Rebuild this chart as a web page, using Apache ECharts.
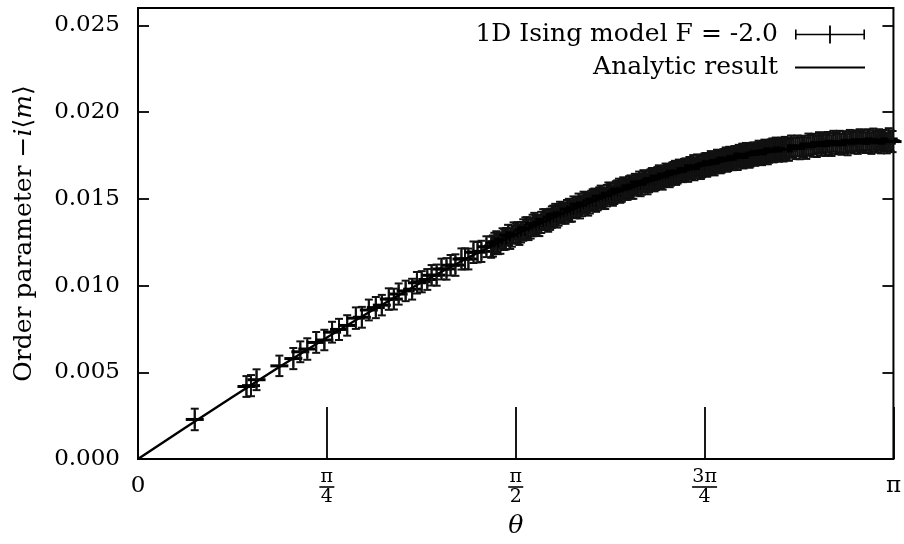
<!DOCTYPE html>
<html><head><meta charset="utf-8">
<script src="https://cdn.jsdelivr.net/npm/echarts@6/dist/echarts.min.js"></script>
<style>html,body{margin:0;padding:0;background:#fff}#c{width:904px;height:544px}</style>
</head><body><div id="c"></div>
<script>
// ---- data ----
const thetaPts = [
0.236,0.451,0.470,0.493,0.588,0.646,0.675,0.704,0.741,0.775,
0.807,0.836,0.870,0.906,0.931,0.960,0.989,1.014,1.043,1.064,
1.084,1.113,1.140,1.160,1.180,1.203,1.221,1.242,1.262,1.283,
1.300,1.320,1.345,1.360,1.374,1.395,1.412,1.428,1.449,1.469,
1.482,1.497,1.516,1.530,1.548,1.562,1.579,1.593,1.611,1.624,
1.641,1.655,1.669,1.685,1.698,1.714,1.727,1.743,1.755,1.771,
1.784,1.799,1.811,1.826,1.838,1.853,1.865,1.879,1.891,1.905,
1.918,1.930,1.943,1.956,1.968,1.981,1.993,2.006,2.018,2.030,
2.042,2.054,2.066,2.078,2.090,2.102,2.113,2.125,2.137,2.148,
2.160,2.171,2.182,2.194,2.205,2.216,2.227,2.238,2.249,2.260,
2.271,2.282,2.293,2.303,2.314,2.325,2.335,2.346,2.356,2.367,
2.377,2.387,2.398,2.408,2.418,2.428,2.438,2.449,2.459,2.469,
2.479,2.489,2.498,2.508,2.518,2.528,2.538,2.547,2.557,2.567,
2.576,2.586,2.595,2.605,2.614,2.624,2.633,2.643,2.652,2.661,
2.670,2.680,2.689,2.698,2.707,2.716,2.725,2.734,2.743,2.752,
2.761,2.770,2.779,2.788,2.797,2.806,2.814,2.823,2.832,2.841,
2.849,2.858,2.866,2.875,2.884,2.892,2.901,2.909,2.918,2.926,
2.935,2.943,2.951,2.960,2.968,2.976,2.985,2.993,3.001,3.009,
3.017,3.026,3.034,3.042,3.050,3.058,3.066,3.074,3.082,3.090,
3.098,3.106,3.114,3.122,3.130,3.138
];
const mPts = [
0.00228,0.00418,0.00423,0.00457,0.00537,0.00579,0.00618,0.00634,0.00672,0.00686,
0.00731,0.00747,0.00770,0.00812,0.00817,0.00859,0.00873,0.00887,0.00922,0.00922,
0.00951,0.00969,0.00979,0.01016,0.01022,0.01035,0.01059,0.01060,0.01095,0.01096,
0.01117,0.01118,0.01153,0.01154,0.01153,0.01192,0.01192,0.01197,0.01224,0.01221,
0.01244,0.01242,0.01271,0.01270,0.01271,0.01304,0.01304,0.01307,0.01331,0.01322,
0.01346,0.01349,0.01346,0.01380,0.01378,0.01382,0.01401,0.01396,0.01423,0.01418,
0.01434,0.01429,0.01453,0.01451,0.01447,0.01479,0.01475,0.01476,0.01495,0.01486,
0.01505,0.01507,0.01501,0.01532,0.01528,0.01530,0.01547,0.01538,0.01564,0.01556,
0.01570,0.01562,0.01585,0.01581,0.01575,0.01605,0.01599,0.01597,0.01615,0.01603,
0.01621,0.01621,0.01614,0.01643,0.01638,0.01637,0.01652,0.01642,0.01666,0.01656,
0.01669,0.01660,0.01681,0.01675,0.01668,0.01696,0.01689,0.01685,0.01702,0.01689,
0.01705,0.01704,0.01696,0.01723,0.01716,0.01714,0.01728,0.01717,0.01740,0.01729,
0.01740,0.01730,0.01750,0.01743,0.01734,0.01761,0.01753,0.01748,0.01764,0.01749,
0.01765,0.01762,0.01753,0.01779,0.01771,0.01768,0.01781,0.01769,0.01791,0.01779,
0.01789,0.01778,0.01797,0.01789,0.01780,0.01805,0.01796,0.01790,0.01805,0.01790,
0.01804,0.01801,0.01791,0.01816,0.01808,0.01804,0.01816,0.01802,0.01824,0.01811,
0.01820,0.01808,0.01826,0.01817,0.01807,0.01832,0.01823,0.01816,0.01830,0.01814,
0.01828,0.01823,0.01812,0.01837,0.01828,0.01823,0.01835,0.01821,0.01841,0.01828,
0.01836,0.01823,0.01841,0.01831,0.01820,0.01845,0.01834,0.01827,0.01841,0.01824,
0.01837,0.01833,0.01821,0.01845,0.01835,0.01830
];
const errPts = [
0.00062,0.00060,0.00061,0.00060,0.00059,0.00061,0.00060,0.00062,0.00060,0.00059,
0.00060,0.00061,0.00059,0.00062,0.00060,0.00060,0.00061,0.00059,0.00062,0.00060,
0.00061,0.00059,0.00060,0.00062,0.00061,0.00060,0.00059,0.00061,0.00060,0.00062,
0.00059,0.00062,0.00061,0.00060,0.00060,0.00062,0.00059,0.00061,0.00060,0.00061,
0.00060,0.00061,0.00059,0.00062,0.00060,0.00060,0.00061,0.00059,0.00062,0.00060,
0.00062,0.00060,0.00061,0.00060,0.00059,0.00061,0.00060,0.00062,0.00060,0.00059,
0.00059,0.00062,0.00061,0.00060,0.00060,0.00062,0.00059,0.00061,0.00060,0.00061,
0.00061,0.00059,0.00060,0.00062,0.00061,0.00060,0.00059,0.00061,0.00060,0.00062,
0.00060,0.00061,0.00059,0.00062,0.00060,0.00060,0.00061,0.00059,0.00062,0.00060,
0.00062,0.00060,0.00061,0.00060,0.00059,0.00061,0.00060,0.00062,0.00060,0.00059,
0.00061,0.00059,0.00060,0.00062,0.00061,0.00060,0.00059,0.00061,0.00060,0.00062,
0.00059,0.00062,0.00061,0.00060,0.00060,0.00062,0.00059,0.00061,0.00060,0.00061,
0.00062,0.00060,0.00061,0.00060,0.00059,0.00061,0.00060,0.00062,0.00060,0.00059,
0.00060,0.00061,0.00059,0.00062,0.00060,0.00060,0.00061,0.00059,0.00062,0.00060,
0.00061,0.00059,0.00060,0.00062,0.00061,0.00060,0.00059,0.00061,0.00060,0.00062,
0.00059,0.00062,0.00061,0.00060,0.00060,0.00062,0.00059,0.00061,0.00060,0.00061,
0.00060,0.00061,0.00059,0.00062,0.00060,0.00060,0.00061,0.00059,0.00062,0.00060,
0.00062,0.00060,0.00061,0.00060,0.00059,0.00061,0.00060,0.00062,0.00060,0.00059,
0.00061,0.00059,0.00060,0.00062,0.00061,0.00060,0.00059,0.00061,0.00060,0.00062,
0.00060,0.00061,0.00059,0.00062,0.00060,0.00061
];
// second run of samples filling the middle of the band
const thetaPtsB = [
1.476,1.490,1.507,1.523,1.539,1.555,1.571,1.586,1.602,1.618,
1.633,1.648,1.662,1.677,1.692,1.706,1.721,1.735,1.749,1.763,
1.778,1.792,1.805,1.819,1.832,1.846,1.859,1.872,1.885,1.898,
1.912,1.924,1.937,1.950,1.962,1.975,1.987,2.000,2.012,2.024,
2.036,2.048,2.060,2.072,2.084,2.096,2.108,2.119,2.131,2.143,
2.154,2.166,2.177,2.188,2.200,2.211,2.222,2.233,2.244,2.255,
2.266,2.277,2.288,2.298,2.309,2.320,2.330,2.341,2.351,2.362,
2.372,2.382,2.393,2.403,2.413,2.423,2.433,2.444,2.454,2.464,
2.474,2.484,2.494,2.503,2.513,2.523,2.533,2.543,2.552,2.562,
2.572,2.581,2.591,2.600,2.610,2.619,2.629,2.638,2.648,2.657,
2.666,2.675,2.685,2.694
];
const mPtsB = [
0.01228,0.01253,0.01245,0.01264,0.01290,0.01285,0.01302,0.01293,0.01320,0.01334,
0.01331,0.01357,0.01347,0.01364,0.01381,0.01371,0.01394,0.01411,0.01405,0.01417,
0.01418,0.01441,0.01430,0.01448,0.01469,0.01460,0.01475,0.01463,0.01487,0.01498,
0.01493,0.01515,0.01503,0.01518,0.01532,0.01519,0.01541,0.01555,0.01545,0.01557,
0.01555,0.01575,0.01562,0.01579,0.01597,0.01586,0.01599,0.01585,0.01608,0.01617,
0.01610,0.01631,0.01616,0.01629,0.01642,0.01628,0.01647,0.01659,0.01648,0.01658,
0.01658,0.01674,0.01659,0.01674,0.01691,0.01679,0.01690,0.01674,0.01695,0.01703,
0.01695,0.01714,0.01699,0.01710,0.01721,0.01706,0.01724,0.01735,0.01722,0.01731,
0.01726,0.01744,0.01728,0.01742,0.01758,0.01744,0.01754,0.01738,0.01757,0.01764,
0.01755,0.01773,0.01757,0.01767,0.01777,0.01760,0.01778,0.01788,0.01774,0.01782,
0.01776,0.01793,0.01776,0.01789
];
const errPtsB = [
0.00061,0.00060,0.00062,0.00059,0.00060,0.00061,0.00060,0.00059,0.00062,0.00060,
0.00060,0.00062,0.00060,0.00061,0.00059,0.00061,0.00062,0.00060,0.00060,0.00059,
0.00062,0.00059,0.00061,0.00060,0.00061,0.00060,0.00062,0.00060,0.00059,0.00061,
0.00059,0.00061,0.00060,0.00062,0.00060,0.00059,0.00060,0.00061,0.00062,0.00060,
0.00061,0.00060,0.00062,0.00059,0.00060,0.00061,0.00060,0.00059,0.00062,0.00060,
0.00060,0.00062,0.00060,0.00061,0.00059,0.00061,0.00062,0.00060,0.00060,0.00059,
0.00062,0.00059,0.00061,0.00060,0.00061,0.00060,0.00062,0.00060,0.00059,0.00061,
0.00059,0.00061,0.00060,0.00062,0.00060,0.00059,0.00060,0.00061,0.00062,0.00060,
0.00061,0.00060,0.00062,0.00059,0.00060,0.00061,0.00060,0.00059,0.00062,0.00060,
0.00060,0.00062,0.00060,0.00061,0.00059,0.00061,0.00062,0.00060,0.00060,0.00059,
0.00062,0.00059,0.00061,0.00060
];
const thetaLine = [0,0.19635,0.39270,0.58905,0.78540,0.98175,1.17810,1.37445,1.57080,
  1.76715,1.96350,2.15984,2.35619,2.55254,2.74889,2.94524,3.14159];
const mLine = [0,0.001795,0.003573,0.005317,0.007009,0.008634,0.010176,0.011620,0.012952,
  0.014160,0.015231,0.016155,0.016924,0.017530,0.017967,0.018230,0.018319];
const xTickValues = [0, Math.PI/4, Math.PI/2, 3*Math.PI/4, Math.PI];
const xTickLabels = ['{z|0}', '{n|π}\n{b| }\n{d|4}', '{n|π}\n{b| }\n{d|2}', '{n|3π}\n{bw| }\n{d|4}', '{z|π}'];
const yTickLabels = ['0.000','0.005','0.010','0.015','0.020','0.025'];
const seriesNames = ['1D Ising model F = -2.0', 'Analytic result'];

const FONT = 'DejaVu Serif';
const chart = echarts.init(document.getElementById('c'), null, {renderer:'canvas'});

function renderErr(params, api) {
  const x = api.value(0), m = api.value(1), e = api.value(2);
  const c = api.coord([x, m]);
  const top = api.coord([x, m + e])[1];
  const bot = api.coord([x, m - e])[1];
  const arm = 9, cap = 4;
  const thin = {stroke:'#111', lineWidth:2.0};
  const thick = {stroke:'#000', lineWidth:3};
  return {type:'group', children:[
    {type:'line', shape:{x1:c[0], y1:top, x2:c[0], y2:bot}, style:thin},
    {type:'line', shape:{x1:c[0]-cap, y1:top, x2:c[0]+cap, y2:top}, style:thin},
    {type:'line', shape:{x1:c[0]-cap, y1:bot, x2:c[0]+cap, y2:bot}, style:thin},
    {type:'line', shape:{x1:c[0]-arm, y1:c[1], x2:c[0]+arm, y2:c[1]}, style:thick},
    {type:'line', shape:{x1:c[0], y1:c[1]-arm, x2:c[0], y2:c[1]+arm}, style:thin}
  ]};
}

const pts = thetaPts.map((t,i)=>[t, mPts[i], errPts[i]])
  .concat(thetaPtsB.map((t,i)=>[t, mPtsB[i], errPtsB[i]]));

const errIcon = 'path://M0,8.2H70V9.8H0Z M0,4H1.6V14H0Z M68.4,4H70V14H68.4Z M34.1,0H35.9V18H34.1Z';
const lineIcon = 'path://M0,0H70V2.2H0Z';
const legendBase = {
  orient:'vertical', align:'right', right:34, itemWidth:70, selectedMode:false,
  itemStyle:{color:'#000', borderWidth:0},
  textStyle:{fontFamily:FONT, fontSize:25, color:'#000', padding:[0,12,0,0]}
};

chart.setOption({
  animation:false,
  color:['#000'],
  backgroundColor:'#fff',
  grid:{left:138, right:7, top:8, bottom:81, show:true, borderColor:'#000', borderWidth:2, containLabel:false},
  legend:[
    Object.assign({}, legendBase, {top:17, itemHeight:18, data:[{name:seriesNames[0], icon:errIcon}]}),
    Object.assign({}, legendBase, {top:50, itemHeight:2.2, data:[{name:seriesNames[1], icon:lineIcon}]})
  ],
  xAxis:{
    type:'value', min:0, max:Math.PI,
    axisLine:{show:false},
    splitLine:{show:false},
    axisTick:{show:true, inside:true, length:52, lineStyle:{color:'#000', width:1.8}, customValues:xTickValues},
    axisLabel:{
      customValues:xTickValues, margin:10, color:'#000', fontFamily:FONT, fontSize:23,
      formatter:function(v){
        for (let k=0;k<xTickValues.length;k++) if (Math.abs(v-xTickValues[k])<1e-6) return xTickLabels[k];
        return '';
      },
      rich:{
        z:{fontFamily:FONT, fontSize:23, lineHeight:34, color:'#000'},
        n:{fontFamily:FONT, fontSize:19, lineHeight:16, color:'#000', align:'center'},
        d:{fontFamily:FONT, fontSize:19, lineHeight:16, color:'#000', align:'center'},
        b:{width:15, height:1.6, lineHeight:4, fontSize:1, backgroundColor:'#000', align:'center'},
        bw:{width:25, height:1.6, lineHeight:4, fontSize:1, backgroundColor:'#000', align:'center'}
      }
    },
    name:'θ', nameLocation:'middle', nameGap:55,
    nameTextStyle:{fontFamily:FONT, fontSize:25, fontStyle:'italic', color:'#000'}
  },
  yAxis:[{
    type:'value', min:0, max:0.026, interval:0.005,
    axisLine:{show:false}, splitLine:{show:false},
    axisTick:{show:true, inside:true, length:11, lineStyle:{color:'#000', width:1.8}},
    axisLabel:{margin:18, color:'#000', fontFamily:FONT, fontSize:23, showMaxLabel:false,
      formatter:function(v){ const k=Math.round(v/0.005); return yTickLabels[k] || ''; }},
    name:'{n|Order parameter −}{i|i}{n|⟨}{i|m}{n|⟩}', nameLocation:'middle', nameGap:101, nameRotate:90,
    nameTextStyle:{fontFamily:FONT, fontSize:25, color:'#000',
      rich:{n:{fontFamily:FONT, fontSize:25, color:'#000'}, i:{fontFamily:FONT, fontSize:25, fontStyle:'italic', color:'#000'}}}
  },{
    type:'value', min:0, max:0.026, interval:0.005, position:'right',
    axisLine:{show:false}, splitLine:{show:false}, axisLabel:{show:false},
    axisTick:{show:true, inside:true, length:11, lineStyle:{color:'#000', width:1.8}}
  }],
  series:[
    {
      name:seriesNames[0], type:'custom', renderItem:renderErr, clip:false,
      xAxisIndex:0, yAxisIndex:0, encode:{x:0, y:1},
      itemStyle:{color:'#000'},
      data:pts, z:2
    },
    {
      name:seriesNames[1], type:'line', symbol:'none', silent:true,
      lineStyle:{color:'#000', width:2.4}, itemStyle:{color:'#000'},
      data:thetaLine.map((t,i)=>[t, mLine[i]]), z:3
    }
  ]
});
</script></body></html>
